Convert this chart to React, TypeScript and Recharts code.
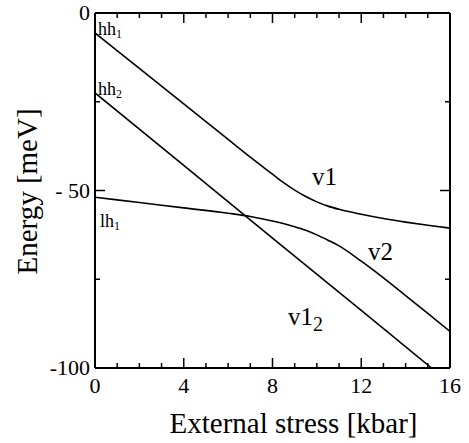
import React from 'react';
import { LineChart, Line, XAxis, YAxis, ReferenceDot, Label } from 'recharts';

const FONT = '"Liberation Serif", "Times New Roman", Times, serif';

// Axis ticks
const xTicks = [0, 1, 2, 3, 4, 5, 6, 7, 8, 9, 10, 11, 12, 13, 14, 15, 16];
const xMajorTicks = [0, 4, 8, 12, 16];
const yTicks = [-100, -75, -50, -25, 0];
const yMajorTicks = [-100, -50, 0];
const yTickLabels = ['-100', '- 50', '0'];

// v1 (starts as hh1)
const v1Stress = [0, 2, 4, 6, 7, 8, 8.5, 9, 9.5, 10, 10.5, 11, 12, 13, 14, 15, 16];
const v1Energy = [-5.6, -15.6, -25.6, -35.6, -40.6, -45.4, -47.8, -49.9, -51.7, -53.2, -54.4, -55.3, -56.7, -57.9, -58.9, -59.8, -60.6];

// v2 (starts as lh1)
const v2Stress = [0, 2, 4, 6, 7, 8, 9, 9.5, 10, 10.5, 11, 12, 13, 14, 15, 16];
const v2Energy = [-51.9, -53.4, -54.9, -56.4, -57.3, -58.6, -60.2, -61.2, -62.5, -64.0, -65.6, -69.9, -74.6, -79.6, -84.6, -89.7];

// v1_2 (starts as hh2)
const v12Stress = [0, 4, 8, 12, 15.17];
const v12Energy = [-22.5, -42.9, -63.4, -83.8, -100];

const toPoints = (xs: number[], es: number[]) => xs.map((x, i) => ({ x, e: es[i] }));
const v1Data = toPoints(v1Stress, v1Energy);
const v2Data = toPoints(v2Stress, v2Energy);
const v12Data = toPoints(v12Stress, v12Energy);

const BottomTick = (props: any) => {
  const { x, y, payload } = props;
  const v = payload.value;
  const major = xMajorTicks.includes(v);
  return (
    <g>
      <line x1={x} x2={x} y1={y} y2={y - (major ? 10 : 5)} stroke="#000" strokeWidth={1.5} />
      {major && (
        <text x={x} y={y + 25} textAnchor="middle" fontFamily={FONT} fontSize={22} fill="#000">
          {v}
        </text>
      )}
    </g>
  );
};

const TopTick = (props: any) => {
  const { x, y, payload } = props;
  const major = xMajorTicks.includes(payload.value);
  return <line x1={x} x2={x} y1={y} y2={y + (major ? 10 : 5)} stroke="#000" strokeWidth={1.5} />;
};

const LeftTick = (props: any) => {
  const { x, y, payload } = props;
  const v = payload.value;
  const idx = yMajorTicks.indexOf(v);
  const major = idx >= 0;
  return (
    <g>
      <line x1={x} x2={x + (major ? 10 : 5)} y1={y} y2={y} stroke="#000" strokeWidth={1.5} />
      {major && (
        <text x={x - 5} y={y + 7} textAnchor="end" fontFamily={FONT} fontSize={22} fill="#000">
          {yTickLabels[idx]}
        </text>
      )}
    </g>
  );
};

const RightTick = (props: any) => {
  const { x, y, payload } = props;
  const major = yMajorTicks.includes(payload.value);
  return <line x1={x} x2={x - (major ? 10 : 5)} y1={y} y2={y} stroke="#000" strokeWidth={1.5} />;
};

const XTitle = (props: any) => {
  const vb = props.viewBox;
  return (
    <text x={vb.x + vb.width / 2 + 21} y={vb.y + vb.height - 10} textAnchor="middle" fontFamily={FONT} fontSize={29} fill="#000">
      External stress [kbar]
    </text>
  );
};

const YTitle = (props: any) => {
  const vb = props.viewBox;
  const cx = 37;
  const cy = vb.y + vb.height / 2 + 1;
  return (
    <text x={cx} y={cy} transform={`rotate(-90, ${cx}, ${cy})`} textAnchor="middle" fontFamily={FONT} fontSize={29} fill="#000">
      Energy [meV]
    </text>
  );
};

type Ann = { x: number; e: number; text: string; sub: string; size: number; subSize: number; subDy: number };
const annotations: Ann[] = [
  { x: 0.14, e: -6.3, text: 'hh', sub: '1', size: 18, subSize: 12, subDy: 3 },
  { x: 0.14, e: -23.0, text: 'hh', sub: '2', size: 18, subSize: 12, subDy: 3 },
  { x: 0.23, e: -60.2, text: 'lh', sub: '1', size: 18, subSize: 12, subDy: 3 },
  { x: 9.78, e: -48.4, text: 'v1', sub: '', size: 25, subSize: 20, subDy: 6 },
  { x: 12.3, e: -69.5, text: 'v2', sub: '', size: 25, subSize: 20, subDy: 6 },
  { x: 8.7, e: -87.8, text: 'v1', sub: '2', size: 25, subSize: 20, subDy: 6 },
];

const makeAnnLabel = (a: Ann) => (props: any) => {
  const vb = props.viewBox;
  return (
    <text x={vb.x} y={vb.y} textAnchor="start" fontFamily={FONT} fontSize={a.size} fill="#000">
      {a.text}
      {a.sub && (
        <tspan fontSize={a.subSize} dy={a.subDy} fill="#000">
          {a.sub}
        </tspan>
      )}
    </text>
  );
};

export default function App() {
  return (
    <div style={{ position: 'absolute', left: 0, top: 0, width: 469, height: 443, background: '#fff' }}>
      <LineChart width={469} height={443} margin={{ top: 0, right: 0, bottom: 0, left: 0 }}>
        <XAxis
          xAxisId="b"
          dataKey="x"
          type="number"
          domain={[0, 16]}
          allowDataOverflow
          ticks={xTicks}
          interval={0}
          height={75}
          tickSize={0}
          tickMargin={0}
          tickLine={false}
          axisLine={{ stroke: '#000', strokeWidth: 2 }}
          tick={BottomTick}
        >
          <Label content={XTitle} />
        </XAxis>
        <XAxis
          xAxisId="t"
          orientation="top"
          dataKey="x"
          type="number"
          domain={[0, 16]}
          allowDataOverflow
          ticks={xTicks}
          interval={0}
          height={13}
          tickSize={0}
          tickMargin={0}
          tickLine={false}
          axisLine={{ stroke: '#000', strokeWidth: 2 }}
          tick={TopTick}
        />
        <YAxis
          yAxisId="l"
          type="number"
          domain={[-100, 0]}
          allowDataOverflow
          ticks={yTicks}
          interval={0}
          width={95}
          tickSize={0}
          tickMargin={0}
          tickLine={false}
          axisLine={{ stroke: '#000', strokeWidth: 2 }}
          tick={LeftTick}
        >
          <Label content={YTitle} />
        </YAxis>
        <YAxis
          yAxisId="r"
          orientation="right"
          type="number"
          domain={[-100, 0]}
          allowDataOverflow
          ticks={yTicks}
          interval={0}
          width={19}
          tickSize={0}
          tickMargin={0}
          tickLine={false}
          axisLine={{ stroke: '#000', strokeWidth: 2 }}
          tick={RightTick}
        />
        <Line xAxisId="b" yAxisId="l" data={v1Data} dataKey="e" type="monotone" stroke="#000" strokeWidth={1.6} dot={false} isAnimationActive={false} />
        <Line xAxisId="b" yAxisId="l" data={v2Data} dataKey="e" type="monotone" stroke="#000" strokeWidth={1.6} dot={false} isAnimationActive={false} />
        <Line xAxisId="b" yAxisId="l" data={v12Data} dataKey="e" type="linear" stroke="#000" strokeWidth={1.6} dot={false} isAnimationActive={false} />
        {annotations.map((a, i) => (
          <ReferenceDot
            key={i}
            xAxisId="b"
            yAxisId="l"
            x={a.x}
            y={a.e}
            r={0}
            fill="none"
            stroke="none"
            label={{ content: makeAnnLabel(a) }}
          />
        ))}
      </LineChart>
    </div>
  );
}
